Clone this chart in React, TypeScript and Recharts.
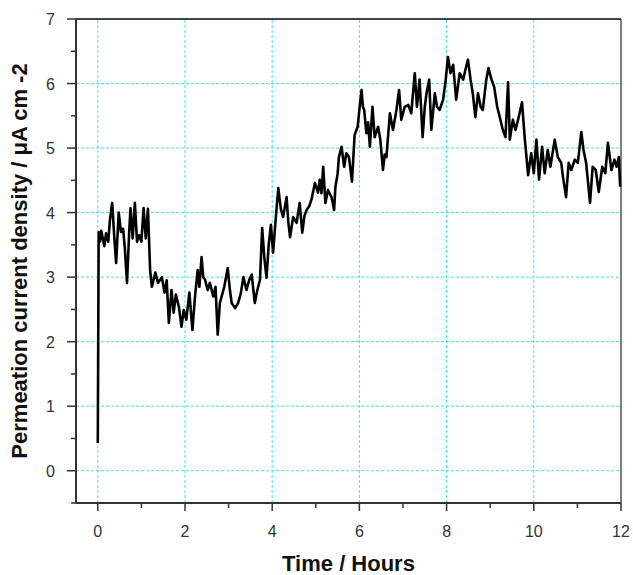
import { LineChart, Line, XAxis, YAxis, ReferenceLine, Label } from "recharts";

const hours = [
  0.0, 0.02, 0.05, 0.08, 0.12, 0.15, 0.19, 0.24, 0.28, 0.33, 0.38, 0.42, 0.48, 0.53, 0.58, 0.62, 0.67, 0.72, 0.75, 0.8,
  0.85, 0.9, 0.95, 1.0, 1.05, 1.1, 1.15, 1.2, 1.24, 1.32, 1.38, 1.47, 1.53, 1.58, 1.63, 1.69, 1.74, 1.79, 1.86, 1.92,
  1.97, 2.03, 2.1, 2.17, 2.23, 2.29, 2.33, 2.38, 2.42, 2.46, 2.52, 2.57, 2.65, 2.7, 2.75, 2.8, 2.84, 2.9, 2.98, 3.03,
  3.07, 3.15, 3.22, 3.28, 3.34, 3.41, 3.47, 3.53, 3.6, 3.66, 3.72, 3.77, 3.82, 3.87, 3.92, 3.97, 4.02, 4.08, 4.14, 4.2,
  4.25, 4.33, 4.37, 4.41, 4.48, 4.56, 4.63, 4.69, 4.74, 4.79, 4.85, 4.9, 4.98, 5.05, 5.09, 5.13, 5.17, 5.22, 5.28, 5.36,
  5.42, 5.45, 5.5, 5.53, 5.59, 5.65, 5.7, 5.76, 5.83, 5.89, 5.96, 6.0, 6.05, 6.08, 6.11, 6.16, 6.2, 6.24, 6.3, 6.35,
  6.43, 6.48, 6.54, 6.58, 6.62, 6.7, 6.77, 6.85, 6.91, 6.96, 7.04, 7.12, 7.19, 7.27, 7.32, 7.38, 7.45, 7.5, 7.54, 7.6,
  7.65, 7.73, 7.78, 7.84, 7.92, 7.98, 8.03, 8.09, 8.15, 8.22, 8.3, 8.38, 8.43, 8.49, 8.55, 8.6, 8.66, 8.72, 8.78, 8.83,
  8.91, 8.96, 9.03, 9.09, 9.16, 9.22, 9.29, 9.35, 9.41, 9.45, 9.52, 9.58, 9.64, 9.73, 9.79, 9.87, 9.94, 10.0, 10.06, 10.12,
  10.19, 10.25, 10.32, 10.38, 10.48, 10.55, 10.63, 10.67, 10.74, 10.8, 10.86, 10.94, 11.01, 11.09, 11.14, 11.2, 11.29, 11.35, 11.42, 11.49,
  11.57, 11.64, 11.7, 11.78, 11.85, 11.9, 11.95, 11.98,
];

const current = [
  0.43, 3.7, 3.55, 3.72, 3.58, 3.48, 3.68, 3.55, 3.9, 4.15, 3.6, 3.22, 4.0, 3.7, 3.75, 3.45, 2.91, 3.7, 4.07, 3.6,
  4.15, 3.55, 3.65, 3.55, 4.07, 3.6, 4.06, 3.11, 2.85, 3.07, 2.91, 3.0, 2.76, 2.95, 2.29, 2.8, 2.45, 2.73, 2.54, 2.23,
  2.49, 2.34, 2.76, 2.18, 2.7, 3.11, 2.85, 3.31, 3.0, 2.96, 2.8, 2.91, 2.7, 2.85, 2.11, 2.6, 2.7, 2.85, 3.14, 2.8,
  2.6, 2.52, 2.6, 2.75, 3.0, 2.8, 2.95, 3.04, 2.6, 2.8, 2.96, 3.76, 3.3, 2.99, 3.5, 3.81, 3.38, 3.9, 4.38, 4.05,
  3.93, 4.24, 3.85, 3.62, 3.93, 3.84, 4.15, 3.69, 3.95, 4.04, 4.1, 4.2, 4.46, 4.31, 4.51, 4.3, 4.71, 4.15, 4.35, 4.24,
  4.04, 4.4, 4.6, 4.86, 5.02, 4.71, 4.92, 4.86, 4.48, 5.2, 5.33, 5.6, 5.9, 5.64, 5.59, 5.23, 5.4, 5.02, 5.64, 5.17,
  5.33, 5.13, 4.66, 4.9, 4.86, 5.54, 5.28, 5.59, 5.9, 5.44, 5.64, 5.67, 5.54, 6.16, 5.64, 6.06, 5.17, 5.64, 5.85, 6.06,
  5.28, 5.85, 5.64, 5.59, 5.75, 6.06, 6.41, 6.16, 6.29, 5.75, 6.16, 6.06, 6.21, 6.37, 6.06, 5.85, 5.48, 5.85, 5.64, 5.59,
  6.06, 6.24, 6.06, 5.95, 5.64, 5.48, 5.28, 5.17, 6.02, 5.13, 5.44, 5.28, 5.44, 5.71, 5.17, 4.58, 4.92, 4.61, 5.13, 4.51,
  5.02, 4.61, 4.97, 4.71, 5.13, 4.86, 4.77, 4.55, 4.24, 4.77, 4.66, 4.82, 4.77, 5.25, 4.97, 4.77, 4.15, 4.71, 4.66, 4.32,
  4.71, 4.61, 5.08, 4.66, 4.82, 4.71, 4.86, 4.4,
];

const xTicks = [0, 1, 2, 3, 4, 5, 6, 7, 8, 9, 10, 11, 12];
const yTicks = [-0.5, 0, 0.5, 1, 1.5, 2, 2.5, 3, 3.5, 4, 4.5, 5, 5.5, 6, 6.5, 7];
const xGrid = [0, 2, 4, 6, 8, 10];
const yGrid = [0, 1, 2, 3, 4, 5, 6];

const data = hours.map((t, i) => ({ t, v: current[i] }));

const FONT = "'Liberation Sans', Arial, sans-serif";
const GRID = "#44e3e3";

function XTick({ x, y, payload }: any) {
  const major = payload.value % 2 === 0;
  return (
    <g>
      <line x1={x} x2={x} y1={y} y2={y + (major ? 8 : 5)} stroke="#333" strokeWidth={1.5} />
      {major && (
        <text x={x} y={y + 34} textAnchor="middle" fontSize={16} fill="#333" fontFamily={FONT}>
          {payload.value}
        </text>
      )}
    </g>
  );
}

function YTick({ x, y, payload }: any) {
  const major = Number.isInteger(payload.value);
  return (
    <g>
      <line x1={x} x2={x - (major ? 9 : 5)} y1={y} y2={y} stroke="#333" strokeWidth={1.5} />
      {major && (
        <text x={x - 21} y={y + 6} textAnchor="end" fontSize={16} fill="#333" fontFamily={FONT}>
          {payload.value}
        </text>
      )}
    </g>
  );
}

export default function App() {
  return (
    <div style={{ width: 633, height: 575, background: "#fff" }}>
      <style>{`body{margin:0}`}</style>
      <LineChart width={633} height={575} data={data} margin={{ top: 19, right: 12, left: 0, bottom: 0 }}>
        <XAxis
          dataKey="t"
          type="number"
          domain={[-0.5, 12]}
          ticks={xTicks}
          interval={0}
          tickSize={0}
          tickMargin={0}
          tickLine={false}
          tick={<XTick />}
          height={72}
          axisLine={{ stroke: "#333", strokeWidth: 2 }}
        >
          <Label
            value="Time / Hours"
            position="insideBottom"
            offset={4}
            style={{ fontSize: 22, fontWeight: "bold", fill: "#111", fontFamily: FONT }}
          />
        </XAxis>
        <YAxis
          type="number"
          domain={[-0.5, 7]}
          ticks={yTicks}
          interval={0}
          tickSize={0}
          tickMargin={0}
          tickLine={false}
          tick={<YTick />}
          width={76}
          axisLine={{ stroke: "#333", strokeWidth: 2 }}
        >
          <Label
            value="Permeation current density / μA cm -2"
            angle={-90}
            position="insideLeft"
            offset={19}
            style={{ fontSize: 22, fontWeight: "bold", fill: "#111", fontFamily: FONT, textAnchor: "middle" }}
          />
        </YAxis>
        {xGrid.map((g) => (
          <ReferenceLine key={"x" + g} x={g} stroke={GRID} strokeDasharray="3 2" strokeWidth={1} />
        ))}
        {yGrid.map((g) => (
          <ReferenceLine key={"y" + g} y={g} stroke={GRID} strokeDasharray="3 2" strokeWidth={1} />
        ))}
        <ReferenceLine y={7} stroke="#444" strokeWidth={2} />
        <ReferenceLine x={12} stroke="#555" strokeWidth={1.5} />
        <Line
          dataKey="v"
          type="linear"
          stroke="#000"
          strokeWidth={2.6}
          strokeLinejoin="round"
          dot={false}
          isAnimationActive={false}
        />
      </LineChart>
    </div>
  );
}
